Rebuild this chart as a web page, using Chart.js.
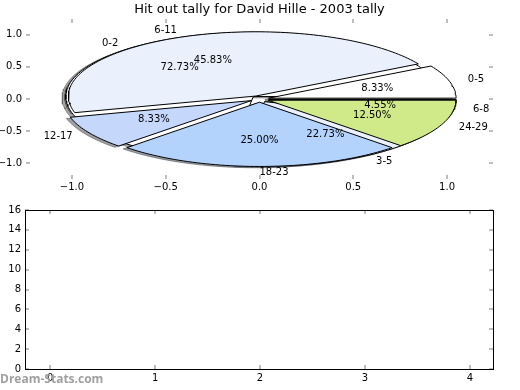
<!DOCTYPE html>
<html>
<head>
<meta charset="utf-8">
<script src="https://cdn.jsdelivr.net/npm/chart.js@4/dist/chart.umd.min.js"></script>
<style>
  html, body { margin: 0; padding: 0; background: #fff; }
  #wrap { position: relative; width: 520px; height: 390px; }
  canvas { position: absolute; left: 0; }
  #top { top: 0; }
  #bottom { top: 200px; }
</style>
</head>
<body>
<div id="wrap">
  <canvas id="top" width="520" height="200"></canvas>
  <canvas id="bottom" width="520" height="190"></canvas>
</div>
<script>
/* the chart data */
const titleText = 'Hit out tally for David Hille - 2003 tally';
const watermark = 'Dream-Stats.com';

// pie drawn on top
const pieOneLabels = ['0-5', '6-11', '12-17', '18-23', '24-29'];
const pieOneValues = [2, 11, 2, 6, 3];
const pieOneColors = ['#ffffff', '#eaf1fd', '#c5d8fc', '#b3d3fd', '#d0ea8a'];

// pie drawn underneath
const pieTwoLabels = ['0-2', '3-5', '6-8'];
const pieTwoValues = [16, 5, 1];
const pieTwoColors = ['#ffffff', '#eaf1fd', '#c5d8fc'];

const topXTicks = [-1.0, -0.5, 0.0, 0.5, 1.0];
const topYTicks = [-1.0, -0.5, 0.0, 0.5, 1.0];
const bottomXTicks = [0, 1, 2, 3, 4];
const bottomYTicks = [0, 2, 4, 6, 8, 10, 12, 14, 16];

const explode = 0.05;
const tickFont = { family: 'DejaVu Sans', size: 10 };

/* angles of every slice, matplotlib style (counter clockwise from 3 o'clock) */
function wedges(values) {
  const total = values.reduce((a, b) => a + b, 0);
  let acc = 0;
  return values.map(v => {
    const t1 = acc / total * 2 * Math.PI;
    acc += v;
    const t2 = acc / total * 2 * Math.PI;
    const mid = (t1 + t2) / 2;
    return { t1, t2, mid, frac: v / total,
      cx: explode * Math.cos(mid), cy: explode * Math.sin(mid) };
  });
}

function outline(w, dx, dy) {
  const pts = [{ x: w.cx + dx, y: w.cy + dy }];
  const n = Math.max(2, Math.ceil((w.t2 - w.t1) / (Math.PI / 120)));
  for (let i = 0; i <= n; i++) {
    const t = w.t1 + (w.t2 - w.t1) * i / n;
    pts.push({ x: w.cx + dx + Math.cos(t), y: w.cy + dy + Math.sin(t) });
  }
  pts.push({ x: w.cx + dx, y: w.cy + dy });
  return pts;
}

function shade(hex) {
  const r = parseInt(hex.slice(1, 3), 16) * 0.3;
  const g = parseInt(hex.slice(3, 5), 16) * 0.3;
  const b = parseInt(hex.slice(5, 7), 16) * 0.3;
  return 'rgba(' + r + ',' + g + ',' + b + ',0.5)';
}

function polygon(points, fillColor, lineColor) {
  return {
    data: points, showLine: true, fill: 'shape', tension: 0,
    backgroundColor: fillColor, borderColor: lineColor, borderWidth: 1,
    pointRadius: 0, pointHoverRadius: 0
  };
}

/* build the datasets: all shadows first, then pie two, then pie one */
const wOne = wedges(pieOneValues);
const wTwo = wedges(pieTwoValues);
const layers = [];
wTwo.forEach((w, i) => layers.push(polygon(outline(w, -0.02, -0.02), shade(pieTwoColors[i]), shade(pieTwoColors[i]))));
wOne.forEach((w, i) => layers.push(polygon(outline(w, -0.02, -0.02), shade(pieOneColors[i]), shade(pieOneColors[i]))));
wTwo.forEach((w, i) => layers.push(polygon(outline(w, 0, 0), pieTwoColors[i], '#000')));
wOne.forEach((w, i) => layers.push(polygon(outline(w, 0, 0), pieOneColors[i], '#000')));
// chart.js paints dataset 0 last, so reverse
layers.reverse();

function fmtOne(v) {
  return (v < 0 ? '\u2212' : '') + Math.abs(v).toFixed(1);
}

/* little grey tick marks inside the axes on all four sides */
const insideTicks = {
  id: 'insideTicks',
  afterDraw(chart) {
    const { ctx, chartArea: a, scales: { x, y } } = chart;
    ctx.save();
    ctx.strokeStyle = '#bdbdbd';
    ctx.lineWidth = 2;
    ctx.beginPath();
    x.ticks.forEach(t => {
      const px = Math.round(x.getPixelForValue(t.value));
      ctx.moveTo(px, a.top); ctx.lineTo(px, a.top + 4);
      ctx.moveTo(px, a.bottom); ctx.lineTo(px, a.bottom - 4);
    });
    y.ticks.forEach(t => {
      const py = Math.round(y.getPixelForValue(t.value));
      ctx.moveTo(a.left, py); ctx.lineTo(a.left + 4, py);
      ctx.moveTo(a.right, py); ctx.lineTo(a.right - 4, py);
    });
    ctx.stroke();
    ctx.restore();
  }
};

/* percentages, slice labels and the title */
const pieText = {
  id: 'pieText',
  afterDraw(chart) {
    const { ctx, chartArea: a, scales: { x, y } } = chart;
    ctx.save();
    ctx.fillStyle = '#000';
    ctx.font = '10px "DejaVu Sans"';
    ctx.textBaseline = 'middle';
    [[wTwo, pieTwoLabels], [wOne, pieOneLabels]].forEach(([ws, labels]) => {
      ws.forEach((w, i) => {
        ctx.textAlign = 'center';
        ctx.fillText((w.frac * 100).toFixed(2) + '%',
          x.getPixelForValue(w.cx + 0.6 * Math.cos(w.mid)),
          y.getPixelForValue(w.cy + 0.6 * Math.sin(w.mid)));
        const lx = w.cx + 1.1 * Math.cos(w.mid);
        ctx.textAlign = lx >= -1e-9 ? 'left' : 'right';
        ctx.fillText(labels[i], x.getPixelForValue(lx),
          y.getPixelForValue(w.cy + 1.1 * Math.sin(w.mid)));
      });
    });
    ctx.font = '13px "DejaVu Sans"';
    ctx.textAlign = 'center';
    ctx.fillText(titleText, (a.left + a.right) / 2, 10);
    ctx.restore();
  }
};

/* black box round the lower axes and the watermark */
const frameBox = {
  id: 'frameBox',
  afterDraw(chart) {
    const { ctx, chartArea: a } = chart;
    ctx.save();
    ctx.strokeStyle = '#000';
    ctx.lineWidth = 1;
    ctx.strokeRect(a.left + 0.5, a.top + 0.5, a.right - a.left, a.bottom - a.top);
    ctx.fillStyle = '#a0a0a0';
    ctx.font = 'bold 12px "Open Sans"';
    ctx.textAlign = 'left';
    ctx.textBaseline = 'middle';
    ctx.fillText(watermark, 0, 180);
    ctx.restore();
  }
};

window.onload = function () {
  /* the upper axes with the two pies */
  new Chart(document.getElementById('top').getContext('2d'), {
    type: 'scatter',
    data: { datasets: layers },
    options: {
      responsive: false,
      animation: false,
      devicePixelRatio: 1,
      layout: { padding: { top: 19, right: 27, left: 0, bottom: 0 } },
      plugins: { legend: { display: false }, tooltip: { enabled: false } },
      scales: {
        x: {
          type: 'linear', min: -1.245, max: 1.245,
          grid: { display: false, drawTicks: false }, border: { display: false },
          afterBuildTicks: s => { s.ticks = topXTicks.map(v => ({ value: v })); },
          afterFit: s => { s.height = 21; },
          ticks: { padding: 2, color: '#000', font: tickFont, maxRotation: 0, autoSkip: false, callback: v => fmtOne(v) }
        },
        y: {
          type: 'linear', min: -1.245, max: 1.245,
          grid: { display: false, drawTicks: false }, border: { display: false },
          afterBuildTicks: s => { s.ticks = topYTicks.map(v => ({ value: v })); },
          afterFit: s => { s.width = 26; },
          ticks: { padding: 4, color: '#000', font: tickFont, autoSkip: false, callback: v => fmtOne(v) }
        }
      }
    },
    plugins: [insideTicks, pieText]
  });

  /* the empty lower axes */
  new Chart(document.getElementById('bottom').getContext('2d'), {
    type: 'scatter',
    data: { datasets: [] },
    options: {
      responsive: false,
      animation: false,
      devicePixelRatio: 1,
      layout: { padding: { top: 10, right: 27, left: 0, bottom: 0 } },
      plugins: { legend: { display: false }, tooltip: { enabled: false } },
      scales: {
        x: {
          type: 'linear', min: -0.24, max: 4.22,
          grid: { display: false, drawTicks: false }, border: { display: false },
          afterBuildTicks: s => { s.ticks = bottomXTicks.map(v => ({ value: v })); },
          afterFit: s => { s.height = 21; },
          ticks: { padding: 3, color: '#000', font: tickFont, maxRotation: 0, autoSkip: false }
        },
        y: {
          type: 'linear', min: 0, max: 16,
          grid: { display: false, drawTicks: false }, border: { display: false },
          afterBuildTicks: s => { s.ticks = bottomYTicks.map(v => ({ value: v })); },
          afterFit: s => { s.width = 25; },
          ticks: { padding: 4, color: '#000', font: tickFont, autoSkip: false }
        }
      }
    },
    plugins: [insideTicks, frameBox]
  });
};
</script>
</body>
</html>
